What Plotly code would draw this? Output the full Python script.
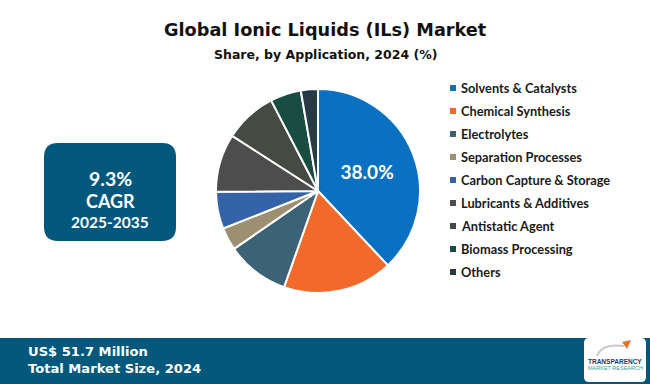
import plotly.graph_objects as go

labels = ["Solvents & Catalysts", "Chemical Synthesis", "Electrolytes", "Separation Processes",
          "Carbon Capture & Storage", "Lubricants & Additives", "Antistatic Agent",
          "Biomass Processing", "Others"]
values = [38.0, 17.4, 10.0, 3.6, 5.9, 9.2, 8.3, 4.9, 2.7]
colors = ["#0A70C2", "#F26A2B", "#3B6275", "#9C8F72", "#3563A8", "#4D4D4D", "#454B42",
          "#1A4D42", "#263B46"]
shown_labels = ["38.0%", "", "", "", "", "", "", "", ""]

title = "Global Ionic Liquids (ILs) Market"
subtitle = "Share, by Application, 2024 (%)"
cagr_lines = ["9.3%", "CAGR", "2025-2035"]
footer_lines = ["US$ 51.7 Million", "Total Market Size, 2024"]

W, H = 650, 384
FONT = "Lato"
HFONT = "DejaVu Sans"
BAND = "#03587C"

def px(x):
    return x / W

def py(y):
    return 1 - y / H

fig = go.Figure()

cx, cy, r = 318, 191, 102
fig.add_trace(go.Pie(
    labels=labels, values=values, sort=False, direction="clockwise", rotation=0,
    marker=dict(colors=colors, line=dict(color="white", width=2)),
    text=shown_labels, textinfo="text", textposition="inside",
    insidetextfont=dict(color="white", size=19, family=FONT, weight="bold"),
    hoverinfo="label+percent",
    domain=dict(x=[px(cx - r), px(cx + r)], y=[py(cy + r), py(cy - r)]),
    showlegend=False,
))

shapes = []
annotations = []

annotations.append(dict(x=0.5, y=py(30), xref="paper", yref="paper", text="<b>%s</b>" % title,
                        showarrow=False, font=dict(family=HFONT, size=17.7, color="#111111"),
                        xanchor="center", yanchor="middle"))
annotations.append(dict(x=0.5, y=py(55), xref="paper", yref="paper", text="<b>%s</b>" % subtitle,
                        showarrow=False, font=dict(family=HFONT, size=12.5, color="#111111"),
                        xanchor="center", yanchor="middle"))

# legend drawn manually
lx, ly0, dy = 453, 88, 23
for i, (lab, col) in enumerate(zip(labels, colors)):
    yy = ly0 + i * dy
    shapes.append(dict(type="rect", xref="paper", yref="paper",
                       x0=px(lx - 3), x1=px(lx + 3), y0=py(yy + 3), y1=py(yy - 3),
                       fillcolor=col, line=dict(width=0)))
    annotations.append(dict(x=px(lx + 6), y=py(yy), xref="paper", yref="paper",
                            text="<b>%s</b>" % lab, showarrow=False,
                            font=dict(family=FONT, size=12.8, color="#1a1a1a"),
                            xanchor="left", yanchor="middle"))

def rounded_rect(x0, y0, x1, y1, rad):
    def P(x, y):
        return "%f,%f" % (px(x), py(y))
    return ("M " + P(x0 + rad, y0) + " L " + P(x1 - rad, y0) +
            " Q " + P(x1, y0) + " " + P(x1, y0 + rad) +
            " L " + P(x1, y1 - rad) + " Q " + P(x1, y1) + " " + P(x1 - rad, y1) +
            " L " + P(x0 + rad, y1) + " Q " + P(x0, y1) + " " + P(x0, y1 - rad) +
            " L " + P(x0, y0 + rad) + " Q " + P(x0, y0) + " " + P(x0 + rad, y0) + " Z")

# CAGR box
shapes.append(dict(type="path", xref="paper", yref="paper", path=rounded_rect(44, 143, 176, 241, 14),
                   fillcolor="#02587C", line=dict(width=0)))
for txt, yy, sz in zip(cagr_lines, [178, 201, 222], [19.5, 18, 15.5]):
    annotations.append(dict(x=px(110), y=py(yy), xref="paper", yref="paper", text="<b>%s</b>" % txt,
                            showarrow=False, font=dict(family=FONT, size=sz, color="white"),
                            xanchor="center", yanchor="middle"))

# footer band
shapes.append(dict(type="rect", xref="paper", yref="paper", x0=0, x1=1, y0=0, y1=py(338),
                   fillcolor=BAND, line=dict(width=0)))
for txt, yy in zip(footer_lines, [351, 368]):
    annotations.append(dict(x=px(26), y=py(yy), xref="paper", yref="paper", text="<b>%s</b>" % txt,
                            showarrow=False, font=dict(family=HFONT, size=13.1, color="white"),
                            xanchor="left", yanchor="middle"))

# logo
shapes.append(dict(type="path", xref="paper", yref="paper", path=rounded_rect(584, 338, 646, 382, 5),
                   fillcolor="white", line=dict(width=0)))
shapes.append(dict(type="path", xref="paper", yref="paper",
                   path="M %f,%f Q %f,%f %f,%f" % (px(597), py(356), px(602), py(343), px(624), py(346)),
                   line=dict(color="#C9C9C9", width=2)))
shapes.append(dict(type="path", xref="paper", yref="paper",
                   path="M %f,%f L %f,%f L %f,%f Z" % (px(622), py(342), px(631), py(340), px(627), py(349)),
                   fillcolor="#F0702A", line=dict(width=0)))
annotations.append(dict(x=px(615), y=py(361), xref="paper", yref="paper", text="<b>TRANSPARENCY</b>",
                        showarrow=False, font=dict(family="Liberation Sans Narrow, Liberation Sans", size=6.5, color="#1F3C5A"),
                        xanchor="center", yanchor="middle"))
annotations.append(dict(x=px(615), y=py(368), xref="paper", yref="paper", text="MARKET RESEARCH",
                        showarrow=False, font=dict(family="Liberation Sans Narrow, Liberation Sans", size=5.5, color="#3AA39A"),
                        xanchor="center", yanchor="middle"))

fig.update_layout(
    width=W, height=H, margin=dict(l=0, r=0, t=0, b=0),
    paper_bgcolor="white", plot_bgcolor="white",
    shapes=shapes, annotations=annotations, showlegend=False,
)

fig.write_html("out.html", config={"displayModeBar": False},
               post_script="document.body.style.margin='0';")
